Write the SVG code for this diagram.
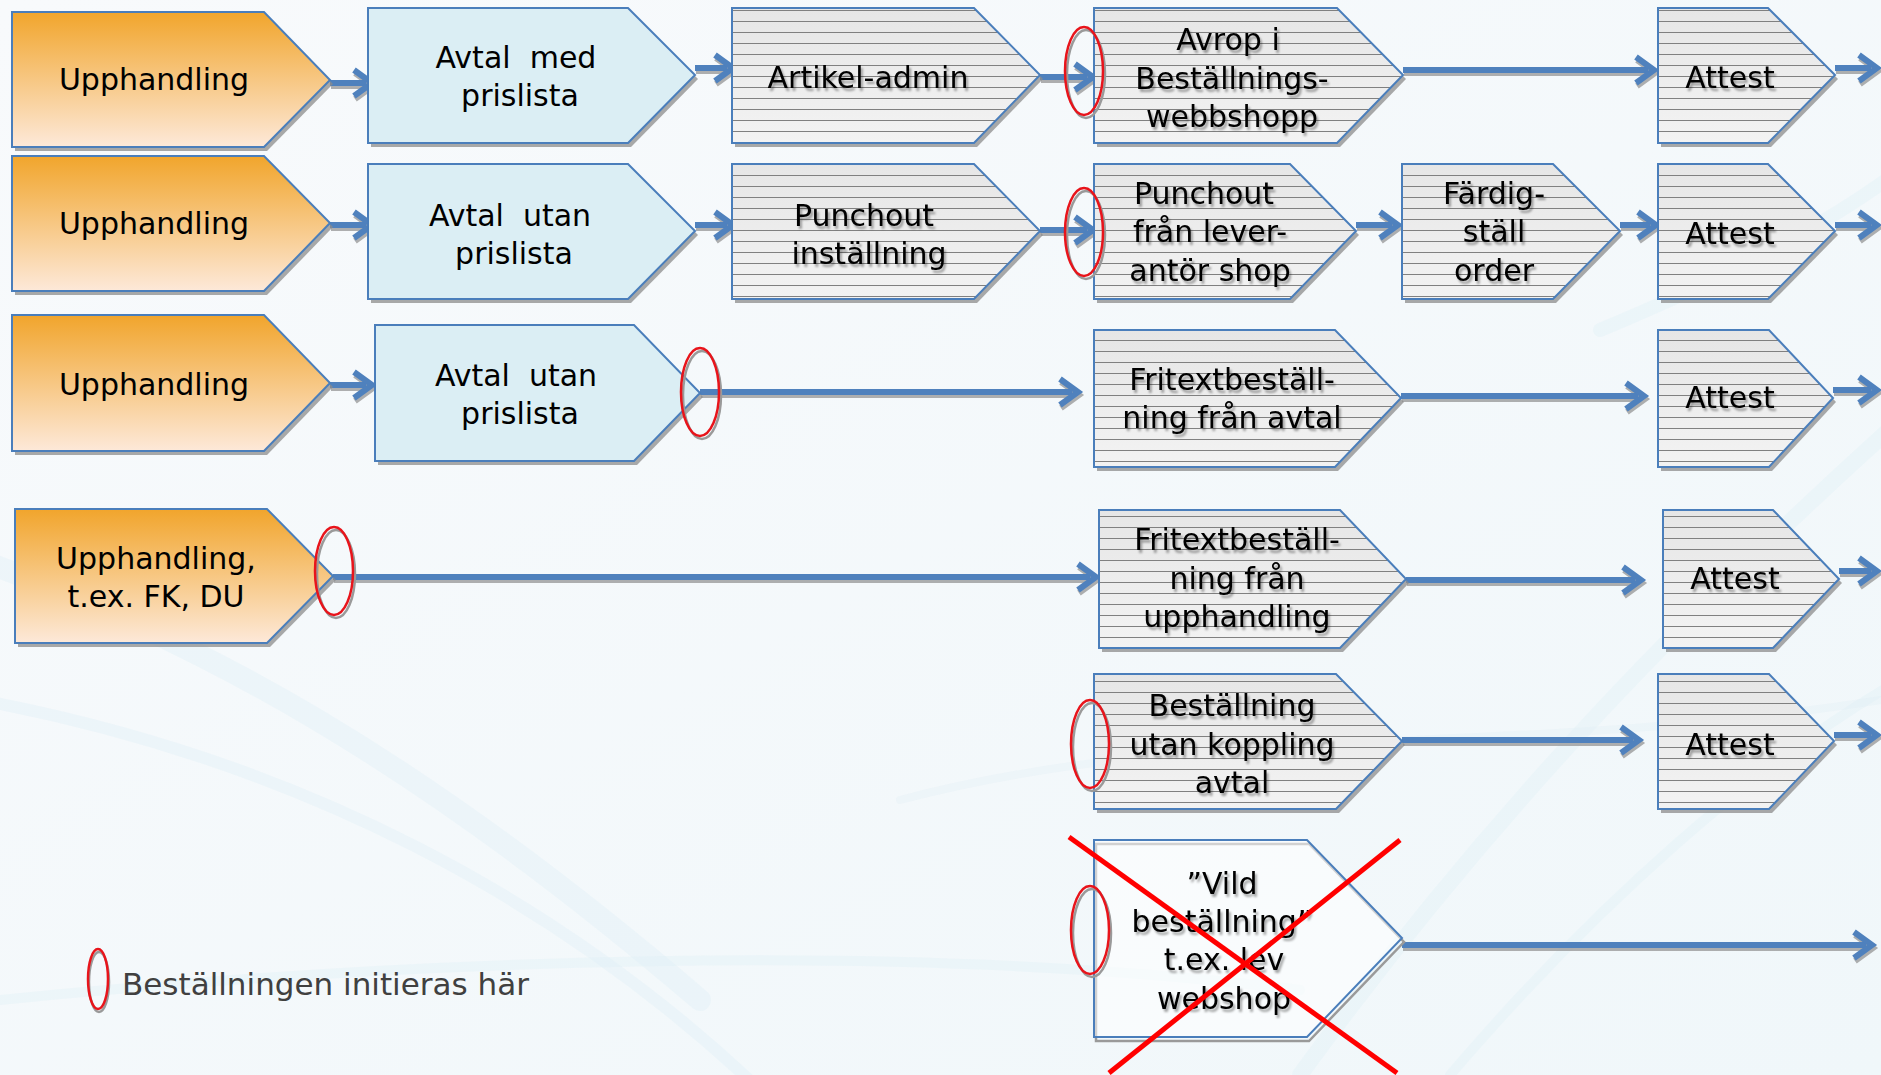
<svg xmlns="http://www.w3.org/2000/svg" xmlns:xlink="http://www.w3.org/1999/xlink" width="1881" height="1075" viewBox="0 0 1881 1075">
<style>
.sh{fill:#8c8c8c;opacity:.75}
.or{fill:url(#gOr);stroke:#4A7EBB;stroke-width:2}
.bl{fill:#DBEEF4;stroke:#4A7EBB;stroke-width:2}
.gr{fill:url(#gGr)}
.st{fill:url(#pSt)}
.ed{fill:none;stroke:#4A7EBB;stroke-width:2}
.vi{fill:#ffffff;fill-opacity:.55;stroke:#4A7EBB;stroke-width:2}
.t{font-family:"DejaVu Sans",Verdana,sans-serif;font-size:30px;fill:#000;text-anchor:middle}
.ts{filter:url(#tsh)}
.cb{stroke:#4F81BD;stroke-width:6;fill:none;marker-end:url(#mB)}
.cs{stroke:#8f8f8f;stroke-width:6;fill:none;opacity:.7;marker-end:url(#mS)}
.re{fill:none;stroke:#E8141B;stroke-width:2.5}
.rs{fill:none;stroke:#9a9a9a;stroke-width:2.5}
.bg{fill:none;stroke:#dcedf5;stroke-linecap:round}
</style>
<defs>
<linearGradient id="gOr" x1="0" y1="0" x2="0" y2="1">
<stop offset="0" stop-color="#F1A52C"/>
<stop offset="1" stop-color="#FDE9D9"/>
</linearGradient>
<linearGradient id="gGr" x1="0" y1="0" x2="0" y2="1">
<stop offset="0" stop-color="#E6E6E6"/>
<stop offset="1" stop-color="#F3F3F3"/>
</linearGradient>
<linearGradient id="gBg" x1="0" y1="0" x2="1" y2="1">
<stop offset="0" stop-color="#F8FAFC"/>
<stop offset="1" stop-color="#F0F7FA"/>
</linearGradient>
<pattern id="pSt" patternUnits="userSpaceOnUse" width="20" height="11">
<line x1="0" y1="10.5" x2="20" y2="10.5" stroke="#808080" stroke-width="1"/>
</pattern>
<filter id="tsh" x="-10%" y="-20%" width="130%" height="160%">
<feDropShadow dx="2" dy="3" stdDeviation="1" flood-color="#000" flood-opacity="0.35"/>
</filter>
<marker id="mB" markerUnits="userSpaceOnUse" markerWidth="30" markerHeight="34" viewBox="0 0 30 34" refX="16" refY="17" orient="auto">
<path d="M4,4 L22,17 L4,30" fill="none" stroke="#4F81BD" stroke-width="6"/>
</marker>
<marker id="mS" markerUnits="userSpaceOnUse" markerWidth="30" markerHeight="34" viewBox="0 0 30 34" refX="16" refY="17" orient="auto">
<path d="M4,4 L22,17 L4,30" fill="none" stroke="#8f8f8f" stroke-width="6"/>
</marker>
<polygon id="p-up1" points="12,12 264,12 330,80 264,147 12,147"/>
<polygon id="p-avt1" points="368,8 628,8 695,75 628,143 368,143"/>
<polygon id="p-art1" points="732,8 974,8 1040,75 974,143 732,143"/>
<polygon id="p-avrop" points="1094,8 1337,8 1403,75 1337,143 1094,143"/>
<polygon id="p-att1" points="1658,8 1768,8 1835,75 1768,143 1658,143"/>
<polygon id="p-up2" points="12,156 264,156 330,223 264,291 12,291"/>
<polygon id="p-avt2" points="368,164 628,164 695,231 628,299 368,299"/>
<polygon id="p-pun2" points="732,164 974,164 1040,231 974,299 732,299"/>
<polygon id="p-punf" points="1094,164 1290,164 1356,231 1290,299 1094,299"/>
<polygon id="p-fard" points="1402,164 1553,164 1620,231 1553,299 1402,299"/>
<polygon id="p-att2" points="1658,164 1768,164 1835,231 1768,299 1658,299"/>
<polygon id="p-up3" points="12,315 264,315 330,383 264,451 12,451"/>
<polygon id="p-avt3" points="375,325 634,325 700,393 634,461 375,461"/>
<polygon id="p-frit3" points="1094,330 1335,330 1401,398 1335,467 1094,467"/>
<polygon id="p-att3" points="1658,330 1769,330 1833,398 1769,467 1658,467"/>
<polygon id="p-up4" points="15,509 267,509 333,576 267,643 15,643"/>
<polygon id="p-frit4" points="1099,510 1340,510 1406,579 1340,648 1099,648"/>
<polygon id="p-att4" points="1663,510 1773,510 1839,579 1773,648 1663,648"/>
<polygon id="p-best5" points="1094,674 1336,674 1402,741 1336,809 1094,809"/>
<polygon id="p-att5" points="1658,674 1769,674 1834,741 1769,809 1658,809"/>
<polygon id="p-vild" points="1094,840 1307,840 1402,938 1307,1037 1094,1037"/>
</defs>

<g id="background">
<rect x="0" y="0" width="1881" height="1075" fill="url(#gBg)"/>
<path class="bg" stroke-width="22" opacity=".35" d="M-20,560 C200,640 420,760 700,1000"/>
<path class="bg" stroke-width="12" opacity=".35" d="M-20,700 C300,760 560,900 760,1090"/>
<path class="bg" stroke-width="10" opacity=".3" d="M0,1000 C400,960 900,940 1300,990"/>
<path class="bg" stroke-width="16" opacity=".3" d="M1300,1075 C1500,800 1700,600 1900,420"/>
<path class="bg" stroke-width="10" opacity=".3" d="M1450,1075 C1600,900 1760,760 1900,680"/>
<path class="bg" stroke-width="14" opacity=".3" d="M1600,330 C1720,280 1820,230 1900,170"/>
<path class="bg" stroke-width="8" opacity=".25" d="M900,800 C1200,720 1500,760 1881,700"/>
</g>

<g id="connectors">
<g id="conn-paths">
<path d="M330,83 H366"/>
<path d="M695,68 H727"/>
<path d="M1040,77 H1087"/>
<path d="M1403,70 H1648"/>
<path d="M1835,68 H1871"/>
<path d="M330,225 H366"/>
<path d="M695,225 H727"/>
<path d="M1040,230 H1087"/>
<path d="M1356,225 H1392"/>
<path d="M1620,225 H1650"/>
<path d="M1835,225 H1871"/>
<path d="M330,385 H366"/>
<path d="M700,392 H1072"/>
<path d="M1401,396 H1638"/>
<path d="M1833,390 H1871"/>
<path d="M333,577 H1090"/>
<path d="M1406,580 H1635"/>
<path d="M1839,571 H1871"/>
<path d="M1402,740 H1633"/>
<path d="M1834,735 H1871"/>
<path d="M1402,945 H1866"/>
</g>
</g>
<use href="#conn-paths" class="cs" transform="translate(1,3)"/>
<use href="#conn-paths" class="cb"/>

<g id="node-up1"><use href="#p-up1" class="sh" transform="translate(3,4)"/><use href="#p-up1" class="or"/>
<text class="t" x="154" y="90">Upphandling</text></g>
<g id="node-avt1"><use href="#p-avt1" class="sh" transform="translate(3,4)"/><use href="#p-avt1" class="bl"/>
<text class="t" xml:space="preserve"><tspan x="516" y="68">Avtal  med</tspan><tspan x="520" y="106">prislista</tspan></text></g>
<g id="node-art1"><use href="#p-art1" class="sh" transform="translate(3,4)"/><use href="#p-art1" class="gr"/><use href="#p-art1" class="st"/><use href="#p-art1" class="ed"/>
<text class="t ts" x="868" y="88">Artikel-admin</text></g>
<g id="node-avrop"><use href="#p-avrop" class="sh" transform="translate(3,4)"/><use href="#p-avrop" class="gr"/><use href="#p-avrop" class="st"/><use href="#p-avrop" class="ed"/>
<text class="t ts"><tspan x="1228" y="50">Avrop i</tspan><tspan x="1232" y="89">Beställnings-</tspan><tspan x="1232" y="127">webbshopp</tspan></text></g>
<g id="node-att1"><use href="#p-att1" class="sh" transform="translate(3,4)"/><use href="#p-att1" class="gr"/><use href="#p-att1" class="st"/><use href="#p-att1" class="ed"/>
<text class="t ts" x="1730" y="88">Attest</text></g>

<g id="node-up2"><use href="#p-up2" class="sh" transform="translate(3,4)"/><use href="#p-up2" class="or"/>
<text class="t" x="154" y="234">Upphandling</text></g>
<g id="node-avt2"><use href="#p-avt2" class="sh" transform="translate(3,4)"/><use href="#p-avt2" class="bl"/>
<text class="t" xml:space="preserve"><tspan x="510" y="226">Avtal  utan</tspan><tspan x="514" y="264">prislista</tspan></text></g>
<g id="node-pun2"><use href="#p-pun2" class="sh" transform="translate(3,4)"/><use href="#p-pun2" class="gr"/><use href="#p-pun2" class="st"/><use href="#p-pun2" class="ed"/>
<text class="t ts"><tspan x="864" y="226">Punchout</tspan><tspan x="869" y="264">inställning</tspan></text></g>
<g id="node-punf"><use href="#p-punf" class="sh" transform="translate(3,4)"/><use href="#p-punf" class="gr"/><use href="#p-punf" class="st"/><use href="#p-punf" class="ed"/>
<text class="t ts"><tspan x="1204" y="204">Punchout</tspan><tspan x="1210" y="242">från lever-</tspan><tspan x="1210" y="281">antör shop</tspan></text></g>
<g id="node-fard"><use href="#p-fard" class="sh" transform="translate(3,4)"/><use href="#p-fard" class="gr"/><use href="#p-fard" class="st"/><use href="#p-fard" class="ed"/>
<text class="t ts"><tspan x="1494" y="204">Färdig-</tspan><tspan x="1494" y="242">ställ</tspan><tspan x="1494" y="281">order</tspan></text></g>
<g id="node-att2"><use href="#p-att2" class="sh" transform="translate(3,4)"/><use href="#p-att2" class="gr"/><use href="#p-att2" class="st"/><use href="#p-att2" class="ed"/>
<text class="t ts" x="1730" y="244">Attest</text></g>

<g id="node-up3"><use href="#p-up3" class="sh" transform="translate(3,4)"/><use href="#p-up3" class="or"/>
<text class="t" x="154" y="395">Upphandling</text></g>
<g id="node-avt3"><use href="#p-avt3" class="sh" transform="translate(3,4)"/><use href="#p-avt3" class="bl"/>
<text class="t" xml:space="preserve"><tspan x="516" y="386">Avtal  utan</tspan><tspan x="520" y="424">prislista</tspan></text></g>
<g id="node-frit3"><use href="#p-frit3" class="sh" transform="translate(3,4)"/><use href="#p-frit3" class="gr"/><use href="#p-frit3" class="st"/><use href="#p-frit3" class="ed"/>
<text class="t ts"><tspan x="1232" y="390">Fritextbeställ-</tspan><tspan x="1232" y="428">ning från avtal</tspan></text></g>
<g id="node-att3"><use href="#p-att3" class="sh" transform="translate(3,4)"/><use href="#p-att3" class="gr"/><use href="#p-att3" class="st"/><use href="#p-att3" class="ed"/>
<text class="t ts" x="1730" y="408">Attest</text></g>

<g id="node-up4"><use href="#p-up4" class="sh" transform="translate(3,4)"/><use href="#p-up4" class="or"/>
<text class="t"><tspan x="156" y="569">Upphandling,</tspan><tspan x="156" y="607">t.ex. FK, DU</tspan></text></g>
<g id="node-frit4"><use href="#p-frit4" class="sh" transform="translate(3,4)"/><use href="#p-frit4" class="gr"/><use href="#p-frit4" class="st"/><use href="#p-frit4" class="ed"/>
<text class="t ts"><tspan x="1237" y="550">Fritextbeställ-</tspan><tspan x="1237" y="589">ning från</tspan><tspan x="1237" y="627">upphandling</tspan></text></g>
<g id="node-att4"><use href="#p-att4" class="sh" transform="translate(3,4)"/><use href="#p-att4" class="gr"/><use href="#p-att4" class="st"/><use href="#p-att4" class="ed"/>
<text class="t ts" x="1735" y="589">Attest</text></g>

<g id="node-best5"><use href="#p-best5" class="sh" transform="translate(3,4)"/><use href="#p-best5" class="gr"/><use href="#p-best5" class="st"/><use href="#p-best5" class="ed"/>
<text class="t ts"><tspan x="1232" y="716">Beställning</tspan><tspan x="1232" y="755">utan koppling</tspan><tspan x="1232" y="793">avtal</tspan></text></g>
<g id="node-att5"><use href="#p-att5" class="sh" transform="translate(3,4)"/><use href="#p-att5" class="gr"/><use href="#p-att5" class="st"/><use href="#p-att5" class="ed"/>
<text class="t ts" x="1730" y="755">Attest</text></g>

<g id="node-vild"><use href="#p-vild" class="rs" transform="translate(2,4)"/><use href="#p-vild" class="vi"/>
<text class="t ts"><tspan x="1222" y="894">”Vild</tspan><tspan x="1222" y="932">beställning”</tspan><tspan x="1224" y="970">t.ex. lev</tspan><tspan x="1224" y="1009">webshop</tspan></text>
<g id="cross">
<line x1="1069" y1="837" x2="1397" y2="1073" stroke="#FF0000" stroke-width="5"/>
<line x1="1400" y1="840" x2="1109" y2="1073" stroke="#FF0000" stroke-width="5"/>
</g></g>

<g id="markers">
<ellipse class="rs" cx="1086" cy="74" rx="19" ry="44"/><ellipse class="re" cx="1084" cy="71" rx="19" ry="44"/>
<ellipse class="rs" cx="1086" cy="235" rx="19" ry="44"/><ellipse class="re" cx="1084" cy="232" rx="19" ry="44"/>
<ellipse class="rs" cx="702" cy="395" rx="19" ry="44"/><ellipse class="re" cx="700" cy="392" rx="19" ry="44"/>
<ellipse class="rs" cx="336" cy="574" rx="19" ry="44"/><ellipse class="re" cx="334" cy="571" rx="19" ry="44"/>
<ellipse class="rs" cx="1092" cy="747" rx="19" ry="44"/><ellipse class="re" cx="1090" cy="744" rx="19" ry="44"/>
<ellipse class="rs" cx="1092" cy="933" rx="19" ry="44"/><ellipse class="re" cx="1090" cy="930" rx="19" ry="44"/>
</g>

<g id="legend">
<ellipse class="rs" cx="99" cy="982" rx="10" ry="30"/><ellipse class="re" cx="98" cy="979" rx="10" ry="30"/>
<text x="122" y="995" font-family="DejaVu Sans, Verdana, sans-serif" font-size="31" fill="#404040">Beställningen initieras här</text>
</g>
</svg>
